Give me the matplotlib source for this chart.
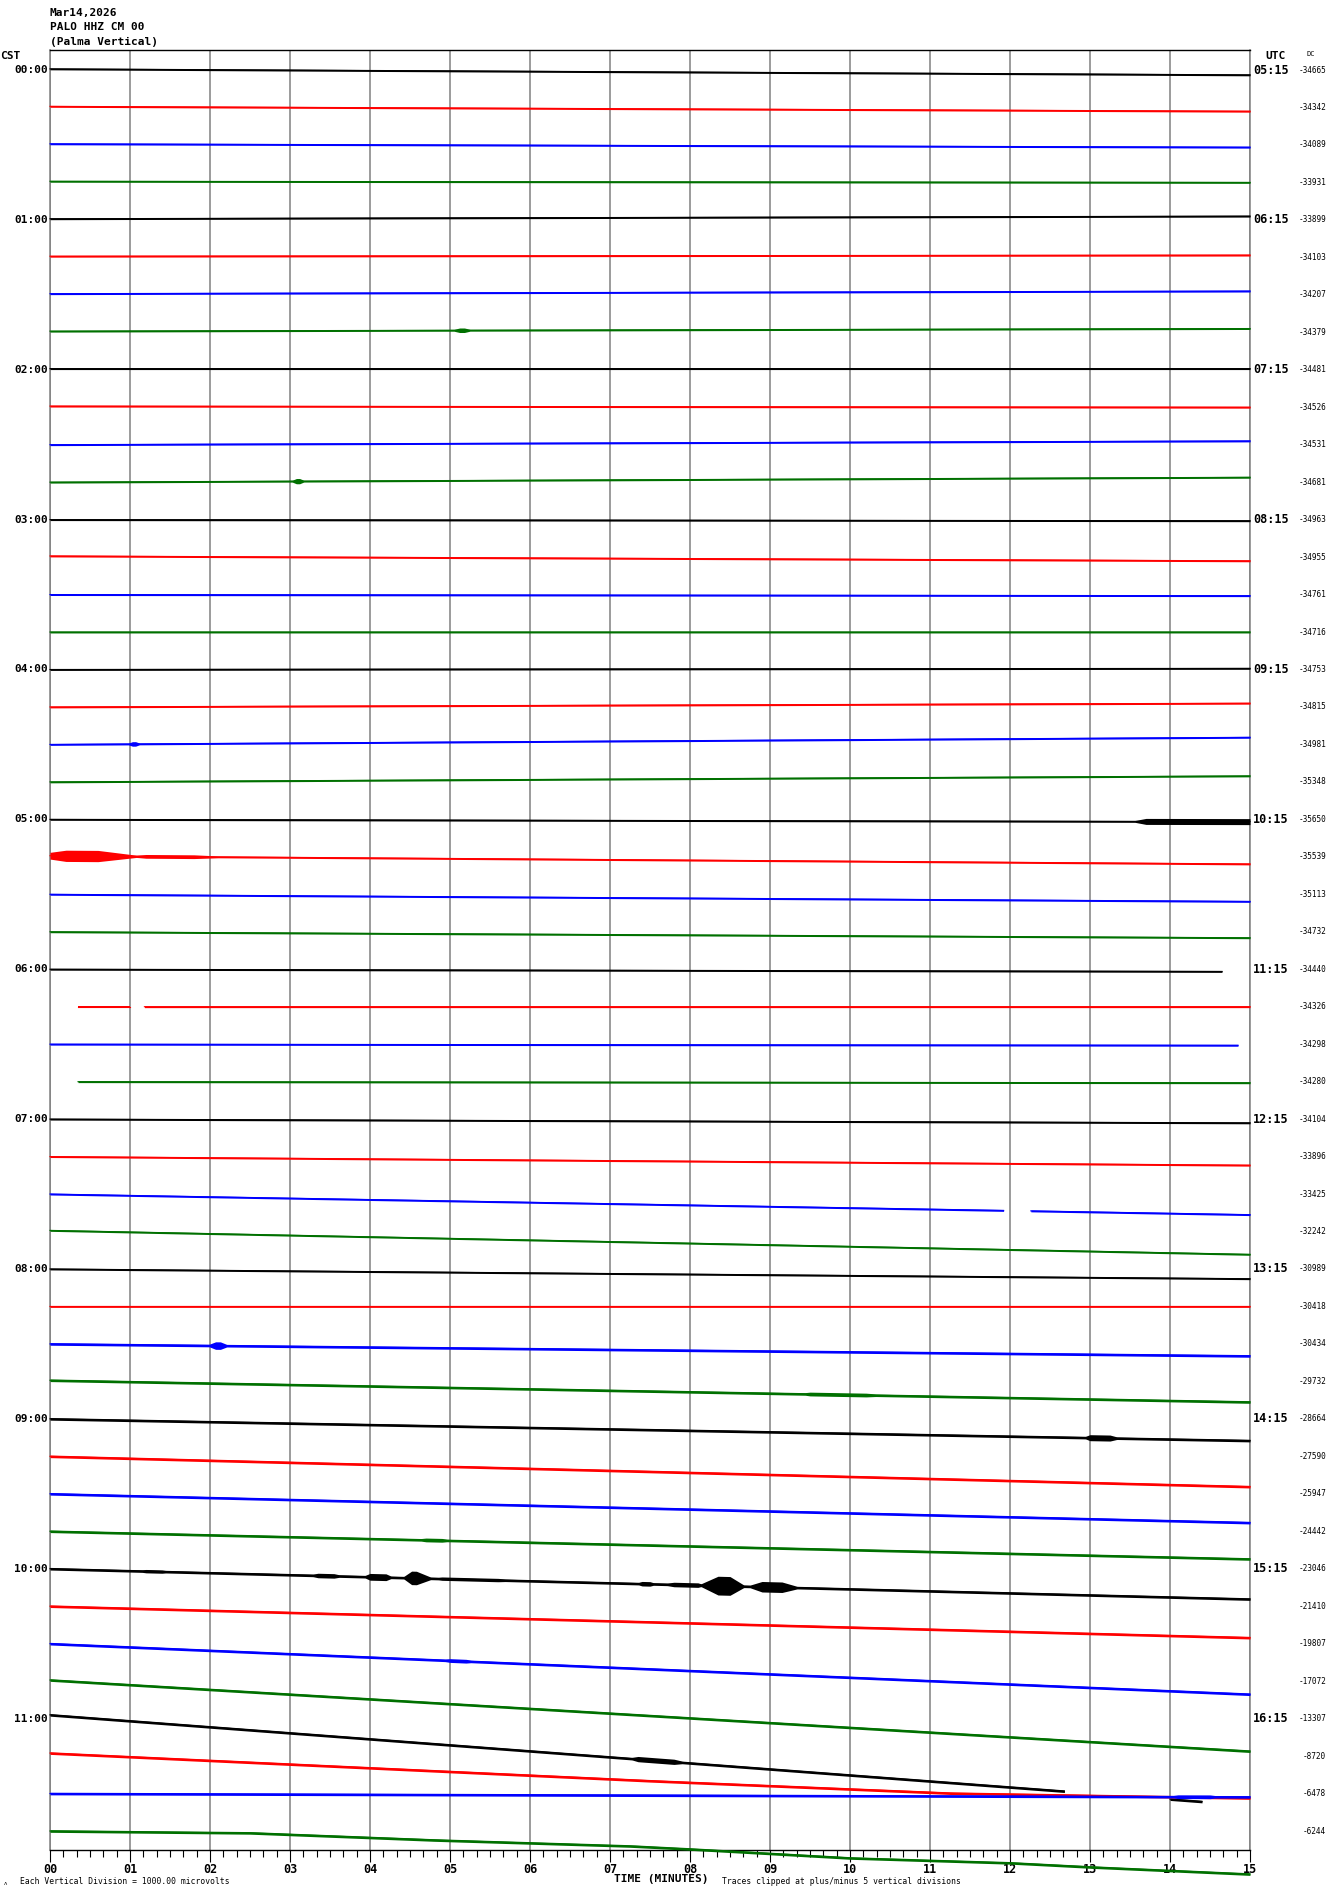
import numpy as np
import matplotlib
matplotlib.use("Agg")
import matplotlib.pyplot as plt
from matplotlib.ticker import MultipleLocator

plt.rcParams["font.family"] = ["DejaVu Sans Mono"]

# ------------------------------------------------------------
# Chart data
# ------------------------------------------------------------
HEADER = ["Mar14,2026", "PALO HHZ CM 00", "(Palma Vertical)"]
CST_LABELS = ["00:00", "01:00", "02:00", "03:00", "04:00", "05:00",
              "06:00", "07:00", "08:00", "09:00", "10:00", "11:00"]
UTC_LABELS = ["05:15", "06:15", "07:15", "08:15", "09:15", "10:15",
              "11:15", "12:15", "13:15", "14:15", "15:15", "16:15"]
DC_VALUES = [-34665, -34342, -34089, -33931, -33899, -34103, -34207, -34379,
             -34481, -34526, -34531, -34681, -34963, -34955, -34761, -34716,
             -34753, -34815, -34981, -35348, -35650, -35539, -35113, -34732,
             -34440, -34326, -34298, -34280, -34104, -33896, -33425, -32242,
             -30989, -30418, -30434, -29732, -28664, -27590, -25947, -24442,
             -23046, -21410, -19807, -17072, -13307, -8720, -6478, -6244]
TRACE_COLORS = ["#000000", "#ff0000", "#0000ff", "#007000"]

# trace offset (vertical divisions, down = +) at minute 0 and minute 15
ROW_START = [-0.03, -0.03, -0.03, -0.03, -0.03, -0.03, -0.03, -0.03,
             -0.03, -0.03, 0.00, 0.00, 0.00, -0.03, 0.00, 0.00,
             0.00, 0.00, 0.00, 0.00, 0.00, -0.03, 0.00, 0.00,
             0.00, 0.00, 0.00, 0.00, 0.00, 0.00, 0.00, -0.03,
             0.00, 0.00, 0.00, -0.03, 0.00, 0.00, 0.00, 0.00,
             0.00, 0.00, 0.00, -0.03, -0.10, -0.08, 0.00, 0.00]
ROW_END = [0.13, 0.10, 0.06, 0.00, -0.10, -0.06, -0.10, -0.10,
           -0.03, 0.00, -0.10, -0.13, 0.03, 0.10, 0.03, 0.00,
           -0.03, -0.10, -0.19, -0.16, 0.06, 0.19, 0.19, 0.16,
           0.06, 0.00, 0.03, 0.03, 0.10, 0.23, 0.55, 0.61,
           0.26, 0.00, 0.32, 0.55, 0.58, 0.81, 0.77, 0.74,
           0.81, 0.84, 1.35, 1.87, 2.31, 1.12, 0.09, 1.15]
# background noise half-width per row
NOISE = [0.025] * 34 + [0.035] * 14

# rows whose drift bends
ROW45_MIN = [0, 7.5, 11.25, 15]
ROW45_OFF = [-0.08, 0.66, 0.99, 1.12]
ROW47_MIN = [0, 2.5, 4.8, 7.25, 8, 10, 12, 13, 15]
ROW47_OFF = [0.0, 0.05, 0.24, 0.40, 0.48, 0.72, 0.85, 0.96, 1.15]

# data segments for rows with gaps (minutes)
SEGMENTS = {24: [(0, 14.65)], 25: [(0.35, 1.0), (1.18, 15)],
            26: [(0, 14.85)], 27: [(0.35, 15)],
            30: [(0, 11.92), (12.26, 15)], 44: [(0, 12.68), (14.0, 14.4)]}

# bursts: row, rise start, plateau start, plateau end, fall end (minutes),
# half-width of the burst (vertical divisions)
EVENTS = [(7, 5.0, 5.12, 5.18, 5.3, 0.06), (11, 3.0, 3.08, 3.12, 3.2, 0.07),
          (18, 0.95, 1.03, 1.07, 1.15, 0.06),
          (20, 13.5, 13.7, 15.0, 15.1, 0.08),
          (21, -0.3, 0.2, 0.6, 1.2, 0.15), (21, 0.9, 1.2, 1.8, 2.4, 0.05),
          (34, 1.95, 2.07, 2.13, 2.25, 0.10),
          (35, 9.3, 9.5, 10.2, 10.6, 0.05),
          (36, 12.9, 13.0, 13.25, 13.4, 0.08),
          (39, 4.5, 4.7, 4.9, 5.1, 0.05),
          (40, 1.0, 1.2, 1.4, 1.6, 0.045), (40, 3.2, 3.35, 3.55, 3.7, 0.06),
          (40, 3.9, 4.0, 4.2, 4.3, 0.09), (40, 4.4, 4.52, 4.58, 4.8, 0.18),
          (40, 4.7, 4.9, 5.6, 6.0, 0.045), (40, 7.3, 7.4, 7.5, 7.6, 0.06),
          (40, 7.6, 7.8, 8.1, 8.2, 0.06), (40, 8.1, 8.35, 8.5, 8.7, 0.25),
          (40, 8.7, 8.9, 9.15, 9.4, 0.14), (42, 4.8, 5.0, 5.2, 5.4, 0.05),
          (44, 7.2, 7.35, 7.8, 8.0, 0.07), (46, 13.9, 14.1, 14.5, 14.7, 0.05)]

N_ROWS = len(DC_VALUES)
W, H = 1330, 1894

fig = plt.figure(figsize=(W / 100, H / 100), dpi=100)
ax = fig.add_axes([50 / W, 1 - 1850 / H, 1200 / W, 1800 / H])
ax.set_xlim(0, 15)
ax.set_ylim(47.507, -0.534)

x = np.linspace(0, 15, 1501)
for i in range(N_ROWS):
    color = TRACE_COLORS[i % 4]
    if i == 45:
        kx, ky = ROW45_MIN, ROW45_OFF
    elif i == 47:
        kx, ky = ROW47_MIN, ROW47_OFF
    else:
        kx, ky = [0, 15], [ROW_START[i], ROW_END[i]]
    center = i + np.interp(x, kx, ky)
    hw = np.full_like(x, NOISE[i])
    for row, t0, t1, t2, t3, amp in EVENTS:
        if row == i:
            hw = np.maximum(hw, np.interp(x, [t0, t1, t2, t3],
                                          [0, amp, amp, 0], left=0, right=0))
    for a, b in SEGMENTS.get(i, [(0, 15)]):
        m = (x >= a) & (x <= b)
        ax.fill_between(x[m], center[m] - hw[m], center[m] + hw[m],
                        color=color, linewidth=0, clip_on=False, zorder=3)
        ax.plot(x[m], center[m], color=color, linewidth=0.8,
                clip_on=False, zorder=3)

# grid and frame
ax.xaxis.set_major_locator(MultipleLocator(1))
ax.xaxis.set_minor_locator(MultipleLocator(1 / 6))
ax.grid(axis="x", which="major", color="#808080", linewidth=1.1, zorder=1)
ax.set_yticks([])
ax.set_xticks(range(16))
ax.set_xticklabels([f"{m:02d}" for m in range(16)],
                   fontsize=8.5, fontweight="bold")
ax.tick_params(axis="x", which="major", length=8.5, width=0.8, pad=0.5,
               direction="out")
ax.tick_params(axis="x", which="minor", length=5, width=0.8, direction="out")
for side in ("left", "right"):
    ax.spines[side].set_color("#808080")
    ax.spines[side].set_linewidth(1.1)
ax.spines["top"].set_linewidth(1.0)
ax.spines["bottom"].set_linewidth(1.0)

# row labels
for k in range(len(CST_LABELS)):
    ax.text(-0.025, 4 * k, CST_LABELS[k], ha="right", va="center",
            fontsize=8, fontweight="bold")
    ax.text(15.04, 4 * k, UTC_LABELS[k], ha="left", va="center",
            fontsize=8.5, fontweight="bold")
for i, v in enumerate(DC_VALUES):
    ax.text(15.95, i, str(v), ha="right", va="center", fontsize=5.6)


def ftext(px, py, s, **kw):
    fig.text(px / W, 1 - py / H, s, **kw)


for j, line in enumerate(HEADER):
    ftext(50, 13 + 14.5 * j, line, ha="left", va="center",
          fontsize=8, fontweight="bold")
ftext(0, 56, "CST", ha="left", va="center", fontsize=8, fontweight="bold")
ftext(1275, 56, "UTC", ha="center", va="center", fontsize=8,
      fontweight="bold")
ftext(1311, 54, "DC", ha="center", va="center", fontsize=5)
ftext(5, 1883, "ʌ", ha="center", va="center", fontsize=4)
ftext(20, 1881, "Each Vertical Division = 1000.00 microvolts",
      ha="left", va="center", fontsize=5.8)
ftext(614, 1879, "TIME (MINUTES)", ha="left", va="center",
      fontsize=8, fontweight="bold")
ftext(722, 1881, "Traces clipped at plus/minus 5 vertical divisions",
      ha="left", va="center", fontsize=5.8)

fig.savefig("out.png", dpi=100)
